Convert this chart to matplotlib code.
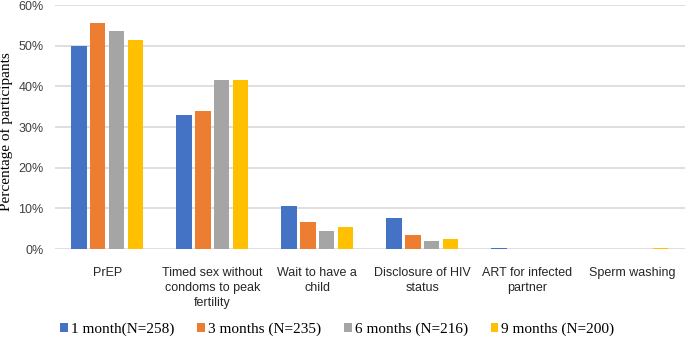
import numpy as np
import matplotlib.pyplot as plt
from matplotlib.ticker import FuncFormatter

# Данные
categories = ['PrEP', 'Timed sex without\ncondoms to peak\nfertility', 'Wait to have a\nchild',
              'Disclosure of HIV\nstatus', 'ART for infected\npartner', 'Sperm washing']
series_names = ['1 month(N=258)', '3 months (N=235)', '6 months (N=216)', '9 months (N=200)']
m1 = [50.0, 32.9, 10.5, 7.7, 0.4, 0.0]
m3 = [55.5, 33.9, 6.8, 3.4, 0.0, 0.0]
m6 = [53.7, 41.7, 4.5, 1.9, 0.0, 0.0]
m9 = [51.5, 41.5, 5.5, 2.4, 0.0, 0.4]
colors = ['#4472c4', '#ed7d31', '#a5a5a5', '#ffc000']

fig = plt.figure(figsize=(6.85, 3.39), dpi=100)
ax = fig.add_axes([0.08, 0.265, 0.92, 0.72])

x = np.arange(len(categories))
pitch = 0.18
width = 0.145
for i, (vals, name, c) in enumerate(zip([m1, m3, m6, m9], series_names, colors)):
    ax.bar(x + (i - 1.5) * pitch, vals, width, color=c, label=name, zorder=3)

ax.set_xlim(-0.5, len(categories) - 0.5)
ax.set_ylim(0, 60)
ax.set_yticks(range(0, 61, 10))
ax.yaxis.set_major_formatter(FuncFormatter(lambda v, pos: f'{v:.0f}%'))
ax.grid(axis='y', color='#d9d9d9', linewidth=1.2, zorder=0)
for s in ax.spines.values():
    s.set_visible(False)
ax.tick_params(length=0)
ax.tick_params(axis='y', labelsize=9, colors='#404040', pad=8)
ax.set_xticks(x)
ax.set_xticklabels(categories, fontsize=9, color='#262626', family='Liberation Sans',
                   linespacing=1.3, va='top')
ax.tick_params(axis='x', pad=13)
for lab in ax.get_yticklabels():
    lab.set_family('Liberation Sans')

ax.set_ylabel('Percentage of participants', family='Liberation Serif', fontsize=11)
ax.yaxis.set_label_coords(-0.066, 0.48)

fig.legend(loc='center left', bbox_to_anchor=(0.088, 0.028), ncol=4, frameon=False,
           prop={'family': 'Liberation Serif', 'size': 11}, handlelength=0.5,
           handleheight=0.5, handletextpad=0.2, columnspacing=1.5,
           borderpad=0, borderaxespad=0)

plt.savefig('out.png', dpi=100)
